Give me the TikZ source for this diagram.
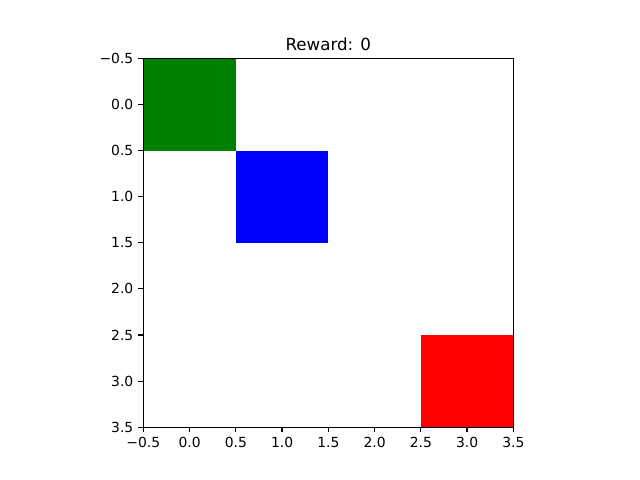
\documentclass[tikz,border=0pt]{standalone}
\usepackage{fontspec}
\setmainfont{DejaVu Sans}
\begin{document}
\begin{tikzpicture}[x=0.72pt,y=-0.72pt,
  ticklbl/.style={font=\fontsize{10}{12}\selectfont, inner sep=0pt},
  tickmark/.style={line width=0.8pt, black},
  cell/.style={draw=none}]
\useasboundingbox (0,0) rectangle (640,480);
\def\xl{143.3}\def\xr{513.3}\def\yt{58.3}\def\yb{427.3}
% cells
\fill[green!50!black, fill={rgb,255:red,0;green,128;blue,0}] (143.3,58.3) rectangle (235.8,150.6);
\fill[fill={rgb,255:red,0;green,0;blue,255}] (235.8,150.6) rectangle (328.3,242.8);
\fill[fill={rgb,255:red,255;green,0;blue,0}] (420.8,335.0) rectangle (513.3,427.3);
% frame
\draw[line width=0.8pt] (\xl,\yt) rectangle (\xr,\yb);
% x ticks
\foreach \i/\lab in {0/{−0.5},1/{0.0},2/{0.5},3/{1.0},4/{1.5},5/{2.0},6/{2.5},7/{3.0},8/{3.5}}{
  \pgfmathsetmacro\px{143.3+\i*46.25}
  \draw[tickmark] (\px,\yb) -- (\px,\yb+4.9);
  \node[ticklbl, anchor=north] at (\px,\yb+9.7) {\lab};
}
% y ticks
\foreach \i/\lab in {0/{−0.5},1/{0.0},2/{0.5},3/{1.0},4/{1.5},5/{2.0},6/{2.5},7/{3.0},8/{3.5}}{
  \pgfmathsetmacro\py{58.3+\i*46.125}
  \draw[tickmark] (\xl,\py) -- (\xl-4.9,\py);
  \node[ticklbl, anchor=east] at (\xl-9.7,\py) {\lab};
}
\node[font=\fontsize{12}{14}\selectfont, inner sep=0pt, anchor=base] (title) at (328.3,50) {Reward: 0};
\end{tikzpicture}
\end{document}
